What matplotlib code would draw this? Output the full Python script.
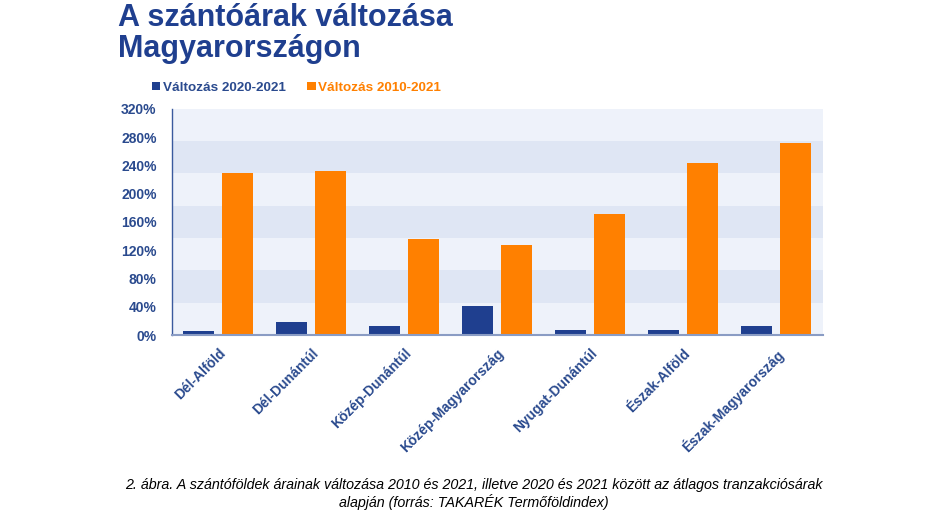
import matplotlib
matplotlib.use("Agg")
import matplotlib.pyplot as plt
import numpy as np

categories = ["Dél-Alföld", "Dél-Dunántúl", "Közép-Dunántúl", "Közép-Magyarország",
              "Nyugat-Dunántúl", "Észak-Alföld", "Észak-Magyarország"]
change_2020_2021 = [6.5, 18, 13, 40.5, 7.5, 7.5, 12.5]
change_2010_2021 = [229, 232.5, 136, 127, 171.5, 244, 271]
series_labels = ["Változás 2020-2021", "Változás 2010-2021"]
yticks = [0, 40, 80, 120, 160, 200, 240, 280, 320]

BLUE = "#1f3f8f"
ORANGE = "#ff8000"
TEXT = "#2a4a8e"

plt.rcParams['font.family'] = ['Liberation Sans', 'DejaVu Sans']

fig = plt.figure(figsize=(9.34, 5.18), dpi=100)
ax = fig.add_axes([0.184, 0.353, 0.697, 0.437])

# alternating bands
n_bands = 7
for k in range(n_bands):
    lo = 320 * k / n_bands
    hi = 320 * (k + 1) / n_bands
    ax.axhspan(lo, hi, color="#eef2fa" if k % 2 == 0 else "#dfe6f4", lw=0, zorder=0)

x = np.arange(len(categories))
w = 0.333
off = 0.21
ax.bar(x - off, change_2020_2021, w, color=BLUE, label=series_labels[0], zorder=2)
ax.bar(x + off, change_2010_2021, w, color=ORANGE, label=series_labels[1], zorder=2)

ax.set_xlim(-0.5, len(categories) - 0.5)
ax.set_ylim(0, 320)
ax.set_yticks(yticks)
ax.set_yticklabels([f"{t}%" for t in yticks])
ax.set_xticks(x)
ax.set_xticklabels(categories, rotation=45, ha="right", rotation_mode="anchor")

for lbl in ax.get_yticklabels() + ax.get_xticklabels():
    lbl.set_color(TEXT)
    lbl.set_fontweight("bold")
    lbl.set_fontsize(10)
ax.tick_params(axis="both", length=0)
ax.tick_params(axis="y", pad=11)
ax.tick_params(axis="x", pad=8)

for s in ["top", "right"]:
    ax.spines[s].set_visible(False)
ax.spines["left"].set_color("#3a5a9e")
ax.spines["left"].set_linewidth(1.0)
ax.spines["bottom"].set_color("#8a9cc4")
ax.spines["bottom"].set_linewidth(1.5)

leg = fig.legend(loc="upper left", bbox_to_anchor=(0.150, 0.866), ncol=2, frameon=False,
                 handlelength=0.6, handleheight=0.6, handletextpad=0.2, columnspacing=1.6,
                 prop={"weight": "bold", "size": 9.7})
for t, c in zip(leg.get_texts(), [TEXT, ORANGE]):
    t.set_color(c)

fig.text(0.126, 0.994, "A szántóárak változása\nMagyarországon", ha="left", va="top",
         fontsize=22, fontweight="bold", color="#1f3f8f", linespacing=1.02)

fig.text(0.507, 0.077, "2. ábra. A szántóföldek árainak változása 2010 és 2021, illetve 2020 és 2021 között az átlagos tranzakciósárak\nalapján (forrás: TAKARÉK Termőföldindex)",
         ha="center", va="top", fontsize=10.3, style="italic", color="black",
         family=['Liberation Sans Narrow', 'Liberation Sans', 'DejaVu Sans'], linespacing=1.15)

fig.savefig("out.png", dpi=100)
